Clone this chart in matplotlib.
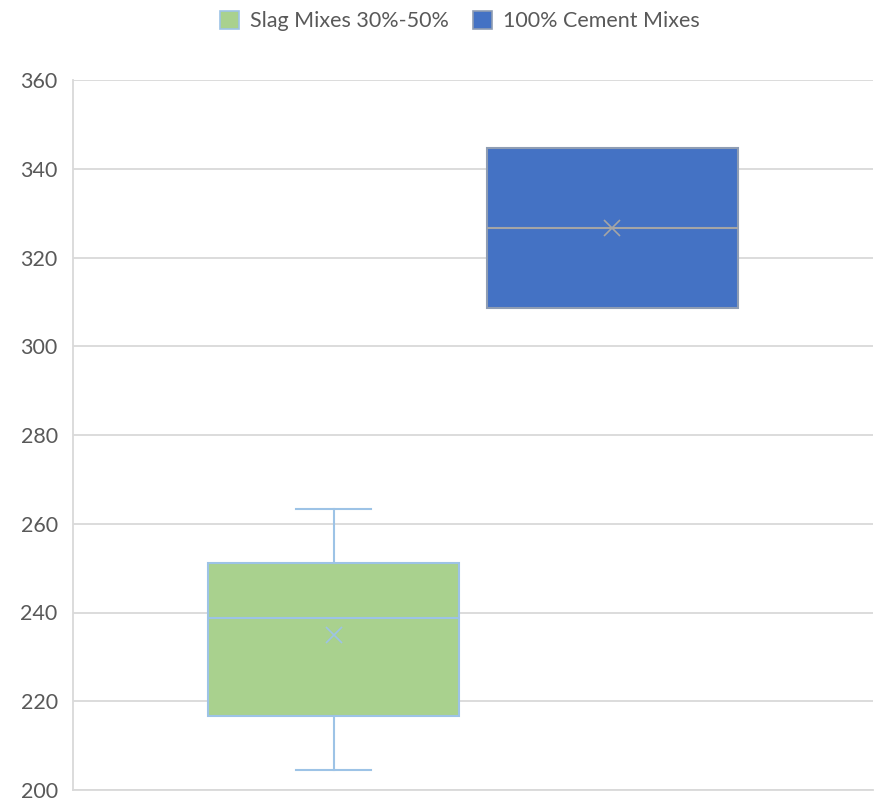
import matplotlib
matplotlib.use("Agg")
import matplotlib.pyplot as plt
from matplotlib.patches import Patch

# series names and box statistics
series = ["Slag Mixes 30%-50%", "100% Cement Mixes"]
q1 = [216.7, 308.6]
med = [238.8, 326.6]
q3 = [251.2, 344.7]
whis_lo = [204.5, 308.6]
whis_hi = [263.3, 344.7]
means = [234.9, 326.6]

fills = ["#A9D18E", "#4472C4"]
edges = ["#9DC3E6", "#8F9DB3"]
inner = ["#9DC3E6", "#A5A5A5"]

yticks = [200, 220, 240, 260, 280, 300, 320, 340, 360]

plt.rcParams['font.family'] = ['Lato', 'DejaVu Sans']

fig = plt.figure(figsize=(8.74, 8.01), dpi=100)
ax = fig.add_axes([73 / 874, 11 / 801, 800 / 874, 710 / 801])

positions = [0.326, 0.674]
for i in range(len(series)):
    stats = [dict(med=med[i], q1=q1[i], q3=q3[i], whislo=whis_lo[i],
                  whishi=whis_hi[i], mean=means[i], fliers=[])]
    ax.bxp(stats, positions=[positions[i]], widths=0.314,
           capwidths=0.094 if whis_lo[i] < q1[i] else 0.0,
           showmeans=True, patch_artist=True, manage_ticks=False,
           boxprops=dict(facecolor=fills[i], edgecolor=edges[i], linewidth=1.5),
           medianprops=dict(color=inner[i], linewidth=1.5),
           whiskerprops=dict(color=edges[i], linewidth=1.5),
           capprops=dict(color=edges[i], linewidth=1.5),
           meanprops=dict(marker='x', markeredgecolor=inner[i],
                          markersize=11, markeredgewidth=1.2))

ax.set_xlim(0, 1)
ax.set_ylim(200, 360)
ax.set_yticks(yticks)
ax.set_xticks([])
ax.yaxis.grid(True, color="#D9D9D9", linewidth=1.3)
ax.set_axisbelow(True)
ax.tick_params(axis='y', length=0, labelsize=15.5, labelcolor="#595959", pad=11)
for s in ["top", "right"]:
    ax.spines[s].set_visible(False)
for s in ["left", "bottom"]:
    ax.spines[s].set_color("#D9D9D9")
    ax.spines[s].set_linewidth(1.3)

handles = [Patch(facecolor=fills[i], edgecolor=edges[i], linewidth=1.2)
           for i in range(len(series))]
fig.legend(handles, series, loc="center", bbox_to_anchor=(0.526, 1 - 21 / 801),
           ncol=2, frameon=False, fontsize=15.5, labelcolor="#595959",
           handlelength=0.9, handleheight=0.9, handletextpad=0.5, columnspacing=1.1)

fig.savefig("out.png", dpi=100)
